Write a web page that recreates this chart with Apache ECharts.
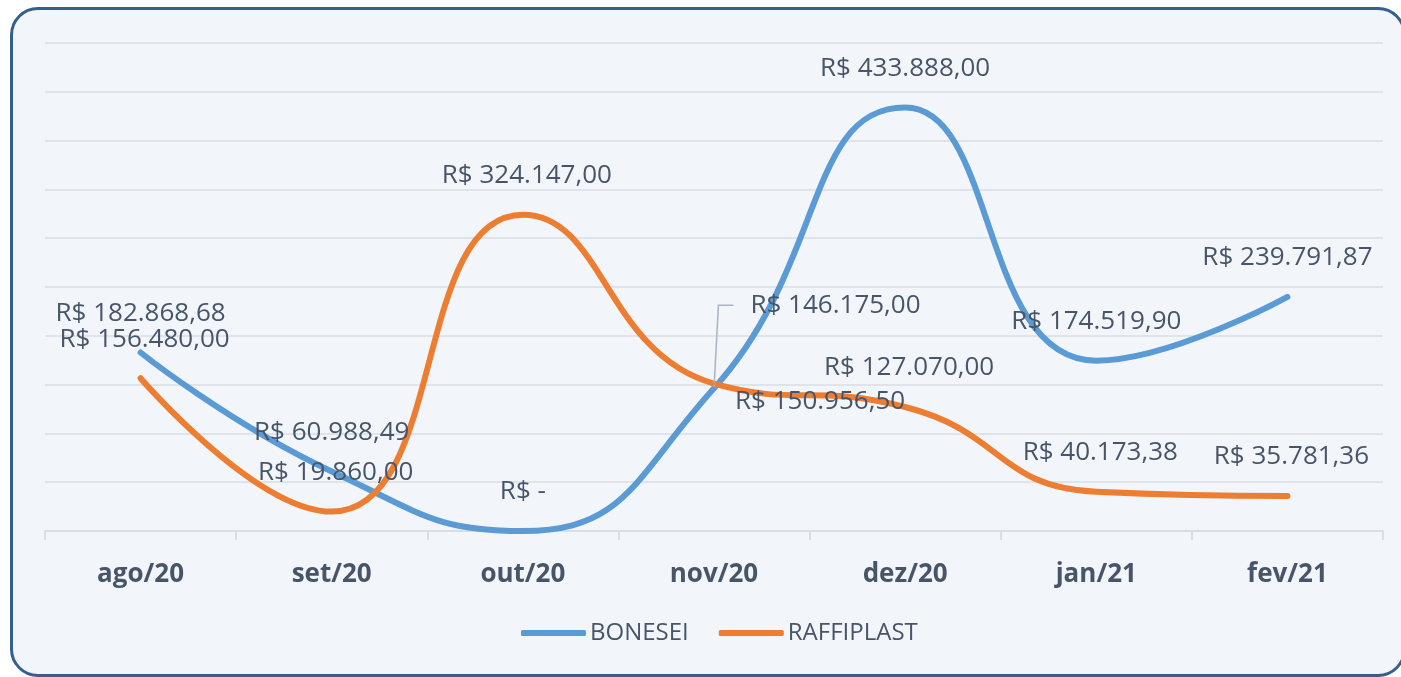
<!DOCTYPE html>
<html>
<head>
<meta charset="utf-8">
<script src="https://cdn.jsdelivr.net/npm/echarts@6/dist/echarts.min.js"></script>
<style>
    html, body { margin: 0; padding: 0; background: #ffffff; overflow: hidden; }
    #frame {
        position: absolute; left: 10px; top: 7px; width: 1390px; height: 664px;
        border: 3px solid #33608e; border-radius: 28px; background: #f2f6fa;
    }
    #main { position: absolute; left: 0; top: 0; width: 1401px; height: 677px; }
</style>
</head>
<body>
<div id="frame"></div>
<div id="main"></div>
<script>
const months = ['ago/20', 'set/20', 'out/20', 'nov/20', 'dez/20', 'jan/21', 'fev/21'];
const bonesei = [182868.68, 60988.49, 0, 146175.00, 433888.00, 174519.90, 239791.87];
const raffiplast = [156480.00, 19860.00, 324147.00, 150956.50, 127070.00, 40173.38, 35781.36];

// formata no padrao R$ 1.234,56
function brl(v) {
    if (!v) return 'R$ -';
    let parts = v.toFixed(2).split('.');
    let inteiro = parts[0].replace(/\B(?=(\d{3})+(?!\d))/g, '.');
    return 'R$ ' + inteiro + ',' + parts[1];
}

const textColor = '#485569';
const labelBase = {
    show: true,
    position: 'top',
    distance: 24,
    offset: [4, 0],
    fontFamily: 'Open Sans',
    fontSize: 26,
    lineHeight: 28,
    color: textColor,
    formatter: function (p) { return brl(p.value); }
};

let dom = document.getElementById('main');
let myChart = echarts.init(dom, null, {renderer: 'canvas'});

const option = {
    animation: false,
    grid: {left: 45, right: 18, top: 43, bottom: 146},
    legend: {
        bottom: 27,
        left: 516,
        icon: 'roundRect',
        itemWidth: 65,
        itemHeight: 6,
        itemGap: 30,
        textStyle: {fontFamily: 'Open Sans', fontSize: 24, color: textColor, padding: [0, 0, 0, -1]},
        data: ['BONESEI', 'RAFFIPLAST']
    },
    xAxis: {
        type: 'category',
        data: months,
        axisLine: {lineStyle: {color: '#d9dee6', width: 2}},
        axisTick: {show: true, length: 9, lineStyle: {color: '#d9dee6', width: 2}},
        axisLabel: {fontFamily: 'Open Sans', fontSize: 26, fontWeight: 'bold', color: textColor, margin: 31}
    },
    yAxis: {
        type: 'value',
        min: 0,
        max: 500000,
        interval: 50000,
        axisLabel: {show: false},
        axisLine: {show: false},
        axisTick: {show: false},
        splitLine: {lineStyle: {color: '#dfe4eb', width: 2}}
    },
    series: [
        {
            name: 'BONESEI',
            type: 'line',
            smooth: 0.5,
            clip: false,
            symbol: 'circle',
            symbolSize: 2,
            color: '#5b9bd5',
            lineStyle: {width: 6, color: '#5b9bd5', cap: 'round'},
            label: labelBase,
            labelLine: {show: false},
            labelLayout: function (params) {
                // rotulo de nov/20 arrastado para cima, com linha guia
                if (params.dataIndex === 3) {
                    return {dx: 113, dy: -68};
                }
            },
            data: bonesei.map(function (v, i) {
                if (i === 3) {
                    return {
                        value: v,
                        label: {position: 'top', distance: 0, offset: [0, 0], padding: [0, 0, 0, 17]},
                        labelLine: {show: true, showAbove: false, length2: 15, lineStyle: {color: '#a9b3c1', width: 1.5}}
                    };
                }
                return v;
            })
        },
        {
            name: 'RAFFIPLAST',
            type: 'line',
            smooth: 0.5,
            clip: false,
            symbol: 'circle',
            symbolSize: 2,
            color: '#ed7d31',
            lineStyle: {width: 6, color: '#ed7d31', cap: 'round'},
            label: labelBase,
            data: raffiplast.map(function (v, i) {
                if (i === 3) {
                    return {value: v, label: {position: 'right', distance: 20, offset: [0, 18]}};
                }
                return v;
            })
        }
    ]
};
myChart.setOption(option, true);
</script>
</body>
</html>
